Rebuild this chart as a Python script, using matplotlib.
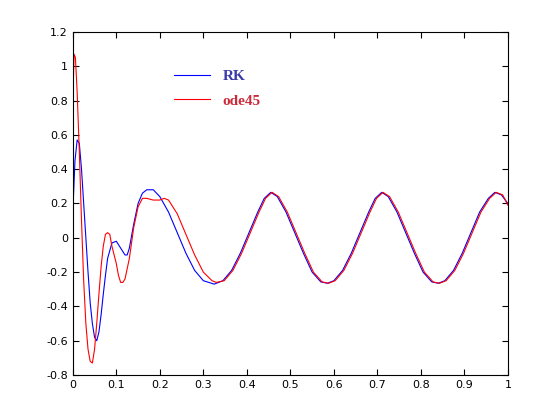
import matplotlib
matplotlib.use('Agg')
import matplotlib.pyplot as plt

# early transient, RK solution
rk_x = [0, .005, .01, .015, .02, .025, .03, .035, .04, .045, .05, .055, .06, .065, .07,
        .075, .08, .09, .1, .11, .12, .125, .13, .14, .15, .16, .17, .185, .2, .22,
        .24, .26, .28, .3, .325]
rk_y = [0.15, 0.45, 0.57, 0.55, 0.4, 0.2, 0.0, -0.2, -0.38, -0.5, -0.58, -0.6, -0.55, -0.45, -0.33,
        -0.22, -0.12, -0.03, -0.02, -0.06, -0.1, -0.1, -0.06, 0.08, 0.2, 0.26, 0.28, 0.28, 0.24, 0.15,
        0.03, -0.09, -0.19, -0.25, -0.27]

# early transient, ode45 solution
ode_x = [0, .003, .006, .01, .015, .02, .025, .03, .035, .04, .045, .05, .055, .06, .065,
         .07, .075, .08, .085, .09, .095, .1, .105, .11, .115, .12, .13, .14, .15, .16,
         .17, .185, .2, .21, .22, .24, .26, .28, .3, .32, .33]
ode_y = [0.8, 1.07, 1.05, 0.85, 0.5, 0.1, -0.25, -0.5, -0.65, -0.72, -0.73, -0.65, -0.5, -0.33, -0.17,
         -0.05, 0.02, 0.03, 0.02, -0.05, -0.1, -0.15, -0.22, -0.26, -0.26, -0.24, -0.12, 0.06, 0.18, 0.23,
         0.23, 0.22, 0.22, 0.23, 0.22, 0.14, 0.02, -0.1, -0.2, -0.25, -0.26]

# steady oscillation (both solutions agree)
tail_x = [.345, .365, .385, .405, .425, .44, .455, .47, .49, .51, .53, .55, .57, .585, .6,
          .62, .64, .66, .68, .695, .71, .725, .745, .765, .785, .805, .825, .84, .855, .875,
          .895, .915, .935, .955, .97, .985, 1.0]
tail_y = [-0.25, -0.19, -0.09, 0.03, 0.15, 0.23, 0.265, 0.24, 0.15, 0.03, -0.09, -0.2, -0.257, -0.265, -0.25,
          -0.19, -0.09, 0.03, 0.15, 0.23, 0.265, 0.24, 0.15, 0.03, -0.09, -0.2, -0.257, -0.265, -0.25, -0.19,
          -0.09, 0.03, 0.15, 0.23, 0.265, 0.25, 0.2]

fig = plt.figure(figsize=(5.6, 4.2), dpi=100)
ax = fig.add_axes([0.13, 0.107, 0.777, 0.817])
ax.plot(rk_x + tail_x, rk_y + tail_y, color='#0000ff', lw=0.8, label='RK')
ode_tail_x = [x + 0.003 for x in tail_x[:-1]] + [1.0]
ax.plot(ode_x + ode_tail_x, ode_y + tail_y[:-1] + [0.19], color='#ff0000', lw=0.8, label='ode45')

ax.set_xlim(0, 1)
ax.set_ylim(-0.8, 1.2)
ax.set_xticks([i / 10 for i in range(11)])
ax.set_xticklabels(['0', '0.1', '0.2', '0.3', '0.4', '0.5', '0.6', '0.7', '0.8', '0.9', '1'])
ax.set_yticks([-0.8 + 0.2 * i for i in range(11)])
ax.set_yticklabels(['-0.8', '-0.6', '-0.4', '-0.2', '0', '0.2', '0.4', '0.6', '0.8', '1', '1.2'])
ax.tick_params(direction='in', labelsize=8, top=True, right=True, length=4)

leg = ax.legend(loc='upper left', bbox_to_anchor=(0.2, 0.93), frameon=False,
                handlelength=2.4, handletextpad=0.8,
                labelspacing=0.7, prop={'family': 'Liberation Serif', 'weight': 'bold', 'size': 11})
leg.get_texts()[0].set_color('#3a3aa8')
leg.get_texts()[1].set_color('#cc2a3a')

fig.savefig('out.png')
